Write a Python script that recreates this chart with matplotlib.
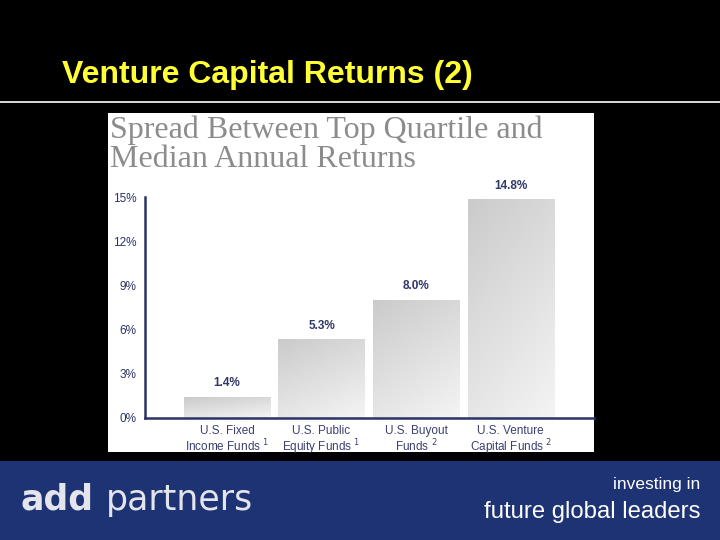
import numpy as np
import matplotlib
matplotlib.use("Agg")
import matplotlib.pyplot as plt
from matplotlib.patches import Rectangle
from matplotlib.colors import LinearSegmentedColormap

# data
categories = ["U.S. Fixed\nIncome Funds $^{1}$", "U.S. Public\nEquity Funds $^{1}$",
              "U.S. Buyout\nFunds $^{2}$", "U.S. Venture\nCapital Funds $^{2}$"]
spread = [1.4, 5.3, 8.0, 14.8]
value_labels = ["1.4%", "5.3%", "8.0%", "14.8%"]
yticks = [0, 3, 6, 9, 12, 15]
ytick_labels = ["0%", "3%", "6%", "9%", "12%", "15%"]

NAVY = "#2b3266"
W, H = 720, 540

def fx(px):
    return px / W

def fy(py):
    return 1 - py / H

fig = plt.figure(figsize=(7.2, 5.4), dpi=100, facecolor="black")

# slide title + rule
fig.text(fx(62), fy(75), "Venture Capital Returns (2)", color="#ffff33",
         fontsize=23, fontweight="bold", family="Liberation Sans", va="center")
fig.add_artist(plt.Line2D([0, 1], [fy(102), fy(102)], color="white", lw=1.2,
                          transform=fig.transFigure))

# white chart panel (behind the axes)
fig.patches.append(Rectangle((fx(108), fy(452)), fx(594 - 108), (452 - 113) / H,
                             facecolor="white", edgecolor="none", zorder=-1,
                             transform=fig.transFigure, figure=fig))
fig.text(fx(110), fy(115), "Spread Between Top Quartile and\nMedian Annual Returns",
         color="#8c8c8c", fontsize=23, family="Liberation Serif",
         va="top", ha="left", linespacing=1.0)

# footer
fig.patches.append(Rectangle((0, 0), 1, (540 - 461) / H, facecolor="#1e3374",
                             edgecolor="none", zorder=-1,
                             transform=fig.transFigure, figure=fig))
fig.text(fx(20), fy(500), "add", color="#e4e4ec", fontsize=25, fontweight="bold",
         family="DejaVu Sans", va="center")
fig.text(fx(106), fy(500), "partners", color="#e4e4ec", fontsize=25,
         family="DejaVu Sans", va="center")
fig.text(fx(700), fy(485), "investing in", color="white", fontsize=12.5,
         family="Liberation Sans", ha="right", va="center")
fig.text(fx(700), fy(512), "future global leaders", color="white", fontsize=17.2,
         family="Liberation Sans", ha="right", va="center")

# chart axes
ax = fig.add_axes([fx(145), fy(418), fx(594 - 145), (418 - 197) / H])
ax.set_facecolor("none")
x = np.arange(len(categories))
width = 0.91
cmap = LinearSegmentedColormap.from_list("g", ["#cbcbcb", "#f4f4f4"])
grad = np.add.outer(np.linspace(0, 1, 50), np.linspace(0, 0.5, 50))
bars = ax.bar(x, spread, width=width, color="none")
for b in bars:
    ax.imshow(grad, extent=(b.get_x(), b.get_x() + b.get_width(), 0, b.get_height()),
              origin="upper", cmap=cmap, aspect="auto", zorder=2, vmin=0, vmax=1.5)
for xi, v, lab in zip(x, spread, value_labels):
    ax.annotate(lab, (xi, v), xytext=(0, 6), textcoords="offset points",
                ha="center", va="bottom", color="#303868", fontsize=8.5,
                fontweight="bold", family="Liberation Sans")

ax.set_xlim(-0.866, 3.88)
ax.set_ylim(0, 15)
ax.set_yticks(yticks)
ax.set_yticklabels(ytick_labels)
ax.set_xticks(x)
ax.set_xticklabels(categories, linespacing=1.05)
ax.tick_params(axis="y", length=0, pad=6, labelsize=8.5, labelcolor=NAVY)
ax.tick_params(axis="x", length=0, pad=5, labelsize=8.5, labelcolor="#3a4070")
for t in ax.get_yticklabels() + ax.get_xticklabels():
    t.set_family("Liberation Sans")
for s in ["top", "right"]:
    ax.spines[s].set_visible(False)
for s in ["left", "bottom"]:
    ax.spines[s].set_color(NAVY)
    ax.spines[s].set_linewidth(1.8)

fig.savefig("out.png", dpi=100, facecolor="black")
